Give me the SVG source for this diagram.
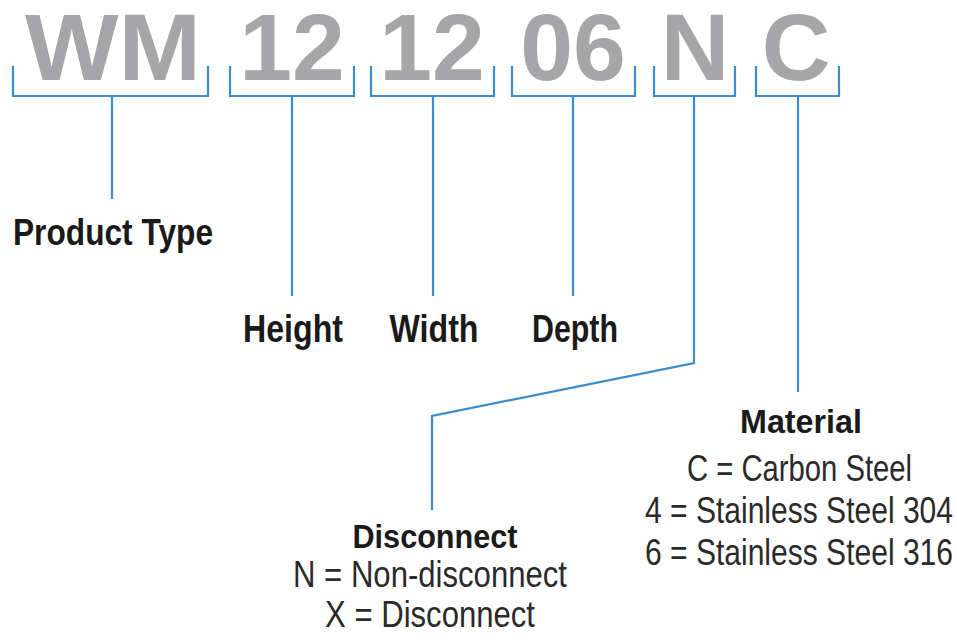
<svg xmlns="http://www.w3.org/2000/svg" width="957" height="640" viewBox="0 0 957 640">
<style>
.code{font-family:"Liberation Sans",Arial,sans-serif;font-weight:bold;font-size:95px;fill:#a6a6a8;text-anchor:middle}
.lbl{font-family:"Liberation Sans",Arial,sans-serif;font-weight:bold;fill:#1a1a1a;text-anchor:middle}
.val{font-family:"Liberation Sans",Arial,sans-serif;font-size:36px;fill:#2a2a2a;text-anchor:middle}
.ln{fill:none;stroke:#3a8ccc;stroke-width:2.2;stroke-linejoin:miter}
</style>
<rect width="957" height="640" fill="#ffffff"/>
<g id="code">
<text class="code" x="113" y="80" textLength="176" lengthAdjust="spacingAndGlyphs">WM</text>
<text class="code" x="292" y="80">12</text>
<text class="code" x="432" y="80">12</text>
<text class="code" x="573" y="80">06</text>
<text class="code" x="695" y="80">N</text>
<text class="code" x="796" y="80">C</text>
</g>
<g id="connectors">
<path class="ln" d="M13,66 V96 H208 V66 M112,96 V199"/>
<path class="ln" d="M230,66 V96 H354 V66 M292,96 V296"/>
<path class="ln" d="M371,66 V96 H494 V66 M433,96 V296"/>
<path class="ln" d="M512,66 V96 H635 V66 M573,96 V296"/>
<path class="ln" d="M654,66 V96 H735 V66 M694,96 V363 L432,416 V510"/>
<path class="ln" d="M756,66 V96 H839 V66 M798,96 V392"/>
</g>
<g id="product-type"><text class="lbl" x="113" y="245" font-size="37" textLength="200" lengthAdjust="spacingAndGlyphs">Product Type</text></g>
<g id="height"><text class="lbl" x="293" y="342" font-size="38" textLength="100" lengthAdjust="spacingAndGlyphs">Height</text></g>
<g id="width"><text class="lbl" x="434" y="342" font-size="38" textLength="89" lengthAdjust="spacingAndGlyphs">Width</text></g>
<g id="depth"><text class="lbl" x="575" y="342" font-size="38" textLength="86" lengthAdjust="spacingAndGlyphs">Depth</text></g>
<g id="disconnect">
<text class="lbl" x="435" y="548" font-size="33" textLength="165" lengthAdjust="spacingAndGlyphs">Disconnect</text>
<text class="val" x="430" y="587" textLength="274" lengthAdjust="spacingAndGlyphs">N = Non-disconnect</text>
<text class="val" x="430" y="627" textLength="210" lengthAdjust="spacingAndGlyphs">X = Disconnect</text>
</g>
<g id="material">
<text class="lbl" x="801" y="433" font-size="34" textLength="122" lengthAdjust="spacingAndGlyphs">Material</text>
<text class="val" x="799.5" y="481" textLength="225" lengthAdjust="spacingAndGlyphs">C = Carbon Steel</text>
<text class="val" x="799" y="523" textLength="308" lengthAdjust="spacingAndGlyphs">4 = Stainless Steel 304</text>
<text class="val" x="799" y="565" textLength="308" lengthAdjust="spacingAndGlyphs">6 = Stainless Steel 316</text>
</g>
</svg>
